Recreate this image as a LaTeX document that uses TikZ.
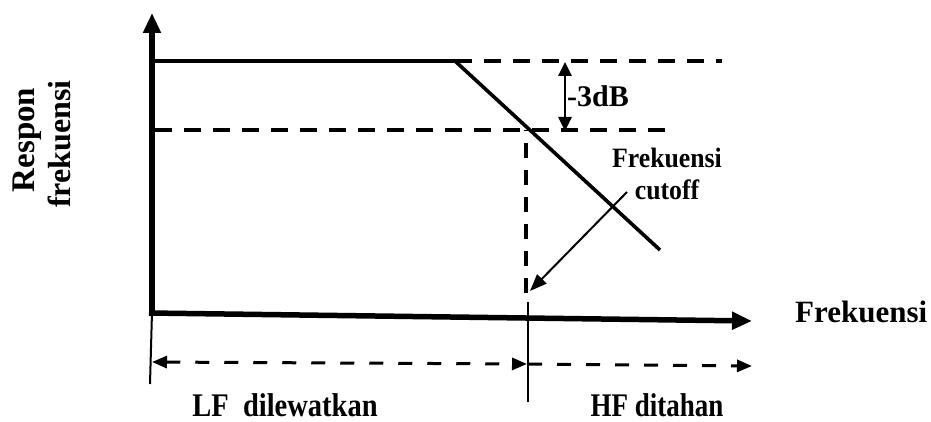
\documentclass[tikz,border=0pt]{standalone}
\usepackage{fontspec}
\setmainfont{Liberation Serif}
\usetikzlibrary{arrows.meta}
\begin{document}
\begin{tikzpicture}[x=1pt,y=-1pt,
  axisline/.style={line width=5.5pt,-{Triangle[length=20pt,width=17pt]}},
  curve/.style={line width=3.6pt},
  guide/.style={line width=3.6pt,dash pattern=on 17pt off 12pt},
  vguide/.style={line width=3.6pt,dash pattern=on 15pt off 12pt},
  span/.style={line width=3pt,dash pattern=on 14pt off 15pt},
  spantip/.tip={Triangle[length=15pt,width=12pt]},
  thin/.style={line width=2pt},
  lbl/.style={font=\bfseries\fontsize{30}{34}\selectfont,inner sep=0pt,align=center}]
\useasboundingbox (0,0) rectangle (931,422);
% axes
\coordinate (o) at (152,316);
\coordinate (ytip) at (152,13);
\coordinate (xo) at (149,313);
\coordinate (xtip) at (752,321);
\draw[axisline] (o) -- (ytip);
\draw[axisline] (xo) -- (xtip);
% response curve
\coordinate (p0) at (152,61);
\coordinate (knee) at (455,61);
\coordinate (pend) at (660,250);
\draw[curve,line join=miter] (p0) -- (knee) -- (pend);
% reference levels
\coordinate (ref0) at (722,61);
\coordinate (c0) at (155,130);
\coordinate (c1) at (668,130);
\coordinate (fc) at (526,130);
\coordinate (fcb) at (526,293);
\draw[guide] (knee) -- (ref0);
\draw[guide] (c0) -- (c1);
\draw[vguide] (fcb) -- (fc);
% -3dB marker
\coordinate (d0) at (565,62);
\coordinate (d1) at (565,131);
\draw[line width=2.6pt,{Triangle[length=14pt,width=13pt]}-{Triangle[length=14pt,width=13pt]}] (d0) -- (d1);
\node[lbl,anchor=base west] (db) at (567,107) {-3dB};
% cutoff label and pointer
\node[lbl,font=\bfseries\fontsize{28}{32}\selectfont,anchor=base] (fcl) at (667,200) {\scalebox{0.92}[1]{Frekuensi}\\\scalebox{0.92}[1]{cutoff}};
\coordinate (ptr0) at (627,192);
\coordinate (ptr1) at (530,291);
\draw[line width=2pt,-{Triangle[length=17pt,width=13pt]}] (ptr0) -- (ptr1);
% band limits
\coordinate (l0) at (152,312);
\coordinate (l1) at (150,384);
\coordinate (m0) at (528,302);
\coordinate (m1) at (528,402);
\draw[thin] (l0) -- (l1);
\draw[thin] (m0) -- (m1);
\coordinate (a0) at (152,362);
\coordinate (a1) at (527,364);
\coordinate (a2) at (752,366);
\draw[span,spantip-spantip] (a0) -- (a1);
\draw[span,-spantip] (m0 |- a1) -- (a2);
% labels
\node[lbl,anchor=base] (lf) at (285,416) {\scalebox{0.95}[1.1]{LF\ \ dilewatkan}};
\node[lbl,anchor=base] (hf) at (657,416) {\scalebox{0.9}[1.1]{HF ditahan}};
\node[lbl,font=\bfseries\fontsize{31}{35}\selectfont,anchor=base west] (fx) at (795,322) {Frekuensi};
\node[lbl,rotate=90,font=\bfseries\fontsize{33}{37}\selectfont,anchor=base] (ry) at (34,140) {Respon};
\node[lbl,rotate=90,font=\bfseries\fontsize{32}{36}\selectfont,anchor=base] (ry2) at (70,144) {frekuensi};
\end{tikzpicture}
\end{document}
